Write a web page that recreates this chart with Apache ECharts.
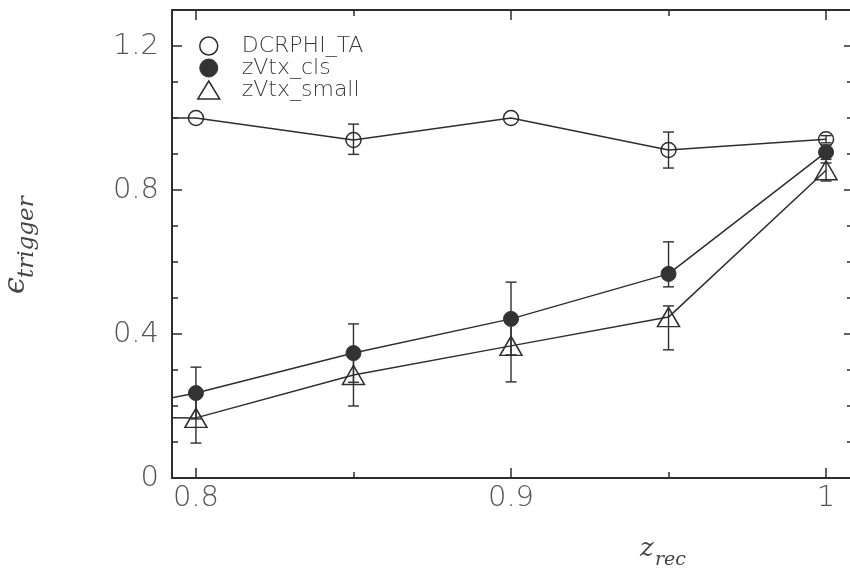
<!DOCTYPE html>
<html>
<head>
<meta charset="utf-8">
<script src="https://cdn.jsdelivr.net/npm/echarts@6/dist/echarts.min.js"></script>
<style>
html,body{margin:0;padding:0;background:#fff;}
#chart{width:850px;height:588px;}
</style>
</head>
<body>
<div id="chart"></div>
<script>
// ---- data ----
var zRec = [0.75, 0.80, 0.85, 0.90, 0.95, 1.00];
var seriesNames = ['DCRPHI_TA', 'zVtx_cls', 'zVtx_small'];
var dcrphi     = [1.000, 1.000, 0.939, 1.000, 0.911, 0.941];
var dcrphiUp   = [0, 0, 0.044, 0, 0.050, 0.010];
var dcrphiDown = [0, 0, 0.040, 0, 0.050, 0.010];
var vtxCls     = [0.150, 0.236, 0.347, 0.442, 0.567, 0.905];
var vtxClsUp   = [0, 0.072, 0.081, 0.102, 0.089, 0.020];
var vtxClsDown = [0, 0.072, 0.081, 0.100, 0.036, 0.020];
var vtxSmall     = [0.170, 0.167, 0.286, 0.367, 0.447, 0.855];
var vtxSmallUp   = [0, 0.070, 0.060, 0.070, 0.031, 0.020];
var vtxSmallDown = [0, 0.070, 0.086, 0.100, 0.091, 0.030];
var xMajorTicks = [0.8, 0.9, 1.0];
var xMinorTicks = [0.85, 0.95];
var yMajorTicks = [0, 0.4, 0.8, 1.2];
var yMinorTicks = [0.1, 0.2, 0.3, 0.5, 0.6, 0.7, 0.9, 1.0, 1.1];

var XMIN = 0.7924, XMAX = 1.0076, YMIN = 0, YMAX = 1.3;
var INK = '#2e2e2e';
var LABEL = '#555';

function pairs(xs, ys){ return xs.map(function(x,i){ return [x, ys[i]]; }); }
function errs(xs, ys, up, down){
  var out = [];
  xs.forEach(function(x,i){ if (up[i] > 0 || down[i] > 0) out.push([x, ys[i]-down[i], ys[i]+up[i]]); });
  return out;
}
function errSeries(data){
  return {
    type: 'custom', xAxisIndex: 0, yAxisIndex: 0, z: 3, silent: true,
    data: data,
    encode: {x: 0, y: [1, 2]},
    renderItem: function(params, api){
      var lo = api.coord([api.value(0), api.value(1)]);
      var hi = api.coord([api.value(0), api.value(2)]);
      var w = 5.5;
      var st = {stroke: INK, lineWidth: 1.4};
      return {type: 'group', children: [
        {type: 'line', shape: {x1: lo[0], y1: lo[1], x2: hi[0], y2: hi[1]}, style: st},
        {type: 'line', shape: {x1: lo[0]-w, y1: lo[1], x2: lo[0]+w, y2: lo[1]}, style: st},
        {type: 'line', shape: {x1: hi[0]-w, y1: hi[1], x2: hi[0]+w, y2: hi[1]}, style: st}
      ]};
    }
  };
}
function xAxisDef(pos, ticks, len, showLine, showLabel){
  return {
    type: 'value', position: pos, min: XMIN, max: XMAX,
    axisLine: {show: showLine, onZero: false, lineStyle: {color: INK, width: 2}},
    axisTick: {show: true, inside: true, length: len, customValues: ticks, lineStyle: {color: INK, width: 1.5}},
    axisLabel: {show: showLabel, customValues: ticks, margin: 6, color: LABEL,
      fontFamily: 'DejaVu Sans', fontWeight: 300, fontSize: 29,
      formatter: function(v){ return String(Math.round(v*10)/10); }},
    splitLine: {show: false}
  };
}
function yAxisDef(pos, ticks, len, showLine, showLabel){
  return {
    type: 'value', position: pos, min: YMIN, max: YMAX,
    axisLine: {show: showLine, onZero: false, lineStyle: {color: INK, width: 2}},
    axisTick: {show: true, inside: true, length: len, customValues: ticks, lineStyle: {color: INK, width: 1.5}},
    axisLabel: {show: showLabel, customValues: ticks, margin: 13, color: LABEL,
      fontFamily: 'DejaVu Sans', fontWeight: 300, fontSize: 29,
      formatter: function(v){ return String(Math.round(v*10)/10); }},
    splitLine: {show: false}
  };
}

var openStyle = {color: 'rgba(0,0,0,0)', borderColor: INK, borderWidth: 1.5};
var filledStyle = {color: '#333', borderColor: '#333', borderWidth: 1};
var lineSt = {color: INK, width: 1.5};

var chart = echarts.init(document.getElementById('chart'), null, {renderer: 'canvas'});
chart.setOption({
  animation: false,
  backgroundColor: '#fff',
  grid: {left: 172, top: 10, right: 0, bottom: 110, containLabel: false, show: false},
  legend: {
    orient: 'vertical', left: 192, top: 30, itemGap: 0, itemWidth: 22, itemHeight: 18,
    selectedMode: false,
    textStyle: {fontFamily: 'DejaVu Sans', fontWeight: 300, fontSize: 22, color: '#3a3a3a', padding: [0, 0, 0, 17]},
    data: [
      {name: seriesNames[0], icon: 'circle', itemStyle: openStyle},
      {name: seriesNames[1], icon: 'circle', itemStyle: filledStyle},
      {name: seriesNames[2], icon: 'triangle', itemStyle: openStyle}
    ]
  },
  xAxis: [
    xAxisDef('bottom', xMajorTicks, 10, true, true),
    xAxisDef('bottom', xMinorTicks, 6, false, false),
    xAxisDef('top', xMajorTicks, 10, true, false),
    xAxisDef('top', xMinorTicks, 6, false, false)
  ],
  yAxis: [
    yAxisDef('left', yMajorTicks, 10, true, true),
    yAxisDef('left', yMinorTicks, 6, false, false),
    yAxisDef('right', yMajorTicks, 6, false, false),
    yAxisDef('right', yMinorTicks, 3, false, false)
  ],
  series: [
    {name: seriesNames[0], type: 'line', xAxisIndex: 0, yAxisIndex: 0, clip: true, z: 4,
     data: pairs(zRec, dcrphi), symbol: 'circle', symbolSize: 15,
     itemStyle: openStyle, lineStyle: lineSt},
    {name: seriesNames[1], type: 'line', xAxisIndex: 0, yAxisIndex: 0, clip: true, z: 4,
     data: pairs(zRec, vtxCls), symbol: 'circle', symbolSize: 15,
     itemStyle: filledStyle, lineStyle: lineSt},
    {name: seriesNames[2], type: 'line', xAxisIndex: 0, yAxisIndex: 0, clip: true, z: 4,
     data: pairs(zRec, vtxSmall), symbol: 'triangle', symbolSize: [22, 19],
     itemStyle: openStyle, lineStyle: lineSt},
    errSeries(errs(zRec, dcrphi, dcrphiUp, dcrphiDown)),
    errSeries(errs(zRec, vtxCls, vtxClsUp, vtxClsDown)),
    errSeries(errs(zRec, vtxSmall, vtxSmallUp, vtxSmallDown))
  ],
  graphic: [
    {type: 'group', x: 31, y: 242, rotation: Math.PI/2, children: [
      {type: 'text', x: -52, y: 0, style: {text: 'ϵ', font: 'italic 30px "DejaVu Serif"', fill: '#444', textVerticalAlign: 'bottom'}},
      {type: 'text', x: -36, y: 8, style: {text: 'trigger', font: 'italic 23px "DejaVu Serif"', fill: '#444', textVerticalAlign: 'bottom'}}
    ]},
    {type: 'group', x: 640, y: 562, children: [
      {type: 'text', x: 0, y: 0, style: {text: 'z', font: 'italic 26px "DejaVu Serif"', fill: '#444', textVerticalAlign: 'bottom'}},
      {type: 'text', x: 15, y: 8, style: {text: 'rec', font: 'italic 19px "DejaVu Serif"', fill: '#444', textVerticalAlign: 'bottom'}}
    ]}
  ]
});
</script>
</body>
</html>
